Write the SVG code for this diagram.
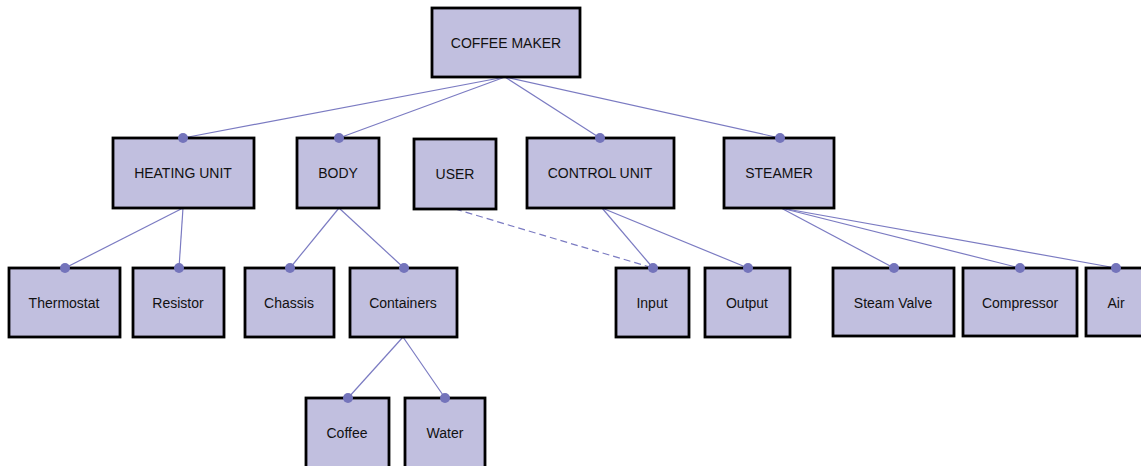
<svg xmlns="http://www.w3.org/2000/svg" width="1141" height="466" viewBox="0 0 1141 466">
<style>
.n rect{fill:#c1bfdf;stroke:#000;stroke-width:2.8}
.n text{font-family:"Liberation Sans",Arial,sans-serif;font-size:14px;fill:#111;text-anchor:middle;dominant-baseline:central}
.c line{stroke:#7b7bc2;stroke-width:1.2}
.c .d{stroke-dasharray:7,4}
.dot{fill:#7474bb}
</style>
<rect width="1141" height="466" fill="#fff"/>
<g class="c" id="connectors">
<line x1="505" y1="77" x2="183" y2="138"/>
<line x1="505" y1="77" x2="339" y2="138"/>
<line x1="505" y1="77" x2="600" y2="138"/>
<line x1="505" y1="77" x2="780" y2="138"/>
<line x1="183" y1="208" x2="65" y2="268"/>
<line x1="183" y1="208" x2="179" y2="268"/>
<line x1="339" y1="208" x2="290" y2="268"/>
<line x1="339" y1="208" x2="404" y2="268"/>
<line x1="403" y1="337" x2="348" y2="398"/>
<line x1="403" y1="337" x2="445" y2="398"/>
<line class="d" x1="455" y1="209" x2="653" y2="268"/>
<line x1="602" y1="208" x2="653" y2="268"/>
<line x1="602" y1="208" x2="748" y2="268"/>
<line x1="781" y1="208" x2="894" y2="268"/>
<line x1="781" y1="208" x2="1020" y2="268"/>
<line x1="781" y1="208" x2="1116" y2="268"/>
</g>
<g class="n" id="coffee-maker"><rect x="432" y="8" width="148" height="69"/><text x="506" y="43">COFFEE MAKER</text></g>
<g class="n" id="heating-unit"><rect x="113" y="138" width="141" height="70"/><text x="183" y="173">HEATING UNIT</text><circle class="dot" cx="183" cy="138" r="5"/></g>
<g class="n" id="body"><rect x="297" y="138" width="82" height="70"/><text x="338" y="173">BODY</text><circle class="dot" cx="339" cy="138" r="5"/></g>
<g class="n" id="user"><rect x="414" y="139" width="82" height="70"/><text x="455" y="174">USER</text></g>
<g class="n" id="control-unit"><rect x="527" y="138" width="147" height="70"/><text x="600" y="173">CONTROL UNIT</text><circle class="dot" cx="600" cy="138" r="5"/></g>
<g class="n" id="steamer"><rect x="724" y="138" width="110" height="70"/><text x="779" y="173">STEAMER</text><circle class="dot" cx="780" cy="138" r="5"/></g>
<g class="n" id="thermostat"><rect x="9" y="268" width="111" height="69"/><text x="64" y="303">Thermostat</text><circle class="dot" cx="65" cy="268" r="5"/></g>
<g class="n" id="resistor"><rect x="133" y="268" width="91" height="69"/><text x="178" y="303">Resistor</text><circle class="dot" cx="179" cy="268" r="5"/></g>
<g class="n" id="chassis"><rect x="245" y="268" width="89" height="69"/><text x="289" y="303">Chassis</text><circle class="dot" cx="290" cy="268" r="5"/></g>
<g class="n" id="containers"><rect x="350" y="268" width="107" height="69"/><text x="403" y="303">Containers</text><circle class="dot" cx="404" cy="268" r="5"/></g>
<g class="n" id="input"><rect x="616" y="268" width="73" height="69"/><text x="652" y="303">Input</text><circle class="dot" cx="653" cy="268" r="5"/></g>
<g class="n" id="output"><rect x="705" y="268" width="85" height="69"/><text x="747" y="303">Output</text><circle class="dot" cx="748" cy="268" r="5"/></g>
<g class="n" id="steam-valve"><rect x="833" y="268" width="121" height="68"/><text x="893" y="303">Steam Valve</text><circle class="dot" cx="894" cy="268" r="5"/></g>
<g class="n" id="compressor"><rect x="963" y="268" width="114" height="68"/><text x="1020" y="303">Compressor</text><circle class="dot" cx="1020" cy="268" r="5"/></g>
<g class="n" id="air"><rect x="1086" y="268" width="70" height="68"/><text x="1116" y="303">Air</text><circle class="dot" cx="1116" cy="268" r="5"/></g>
<g class="n" id="coffee"><rect x="306" y="398" width="83" height="75"/><text x="347" y="433">Coffee</text><circle class="dot" cx="348" cy="398" r="5"/></g>
<g class="n" id="water"><rect x="405" y="398" width="80" height="75"/><text x="445" y="433">Water</text><circle class="dot" cx="445" cy="398" r="5"/></g>
</svg>
